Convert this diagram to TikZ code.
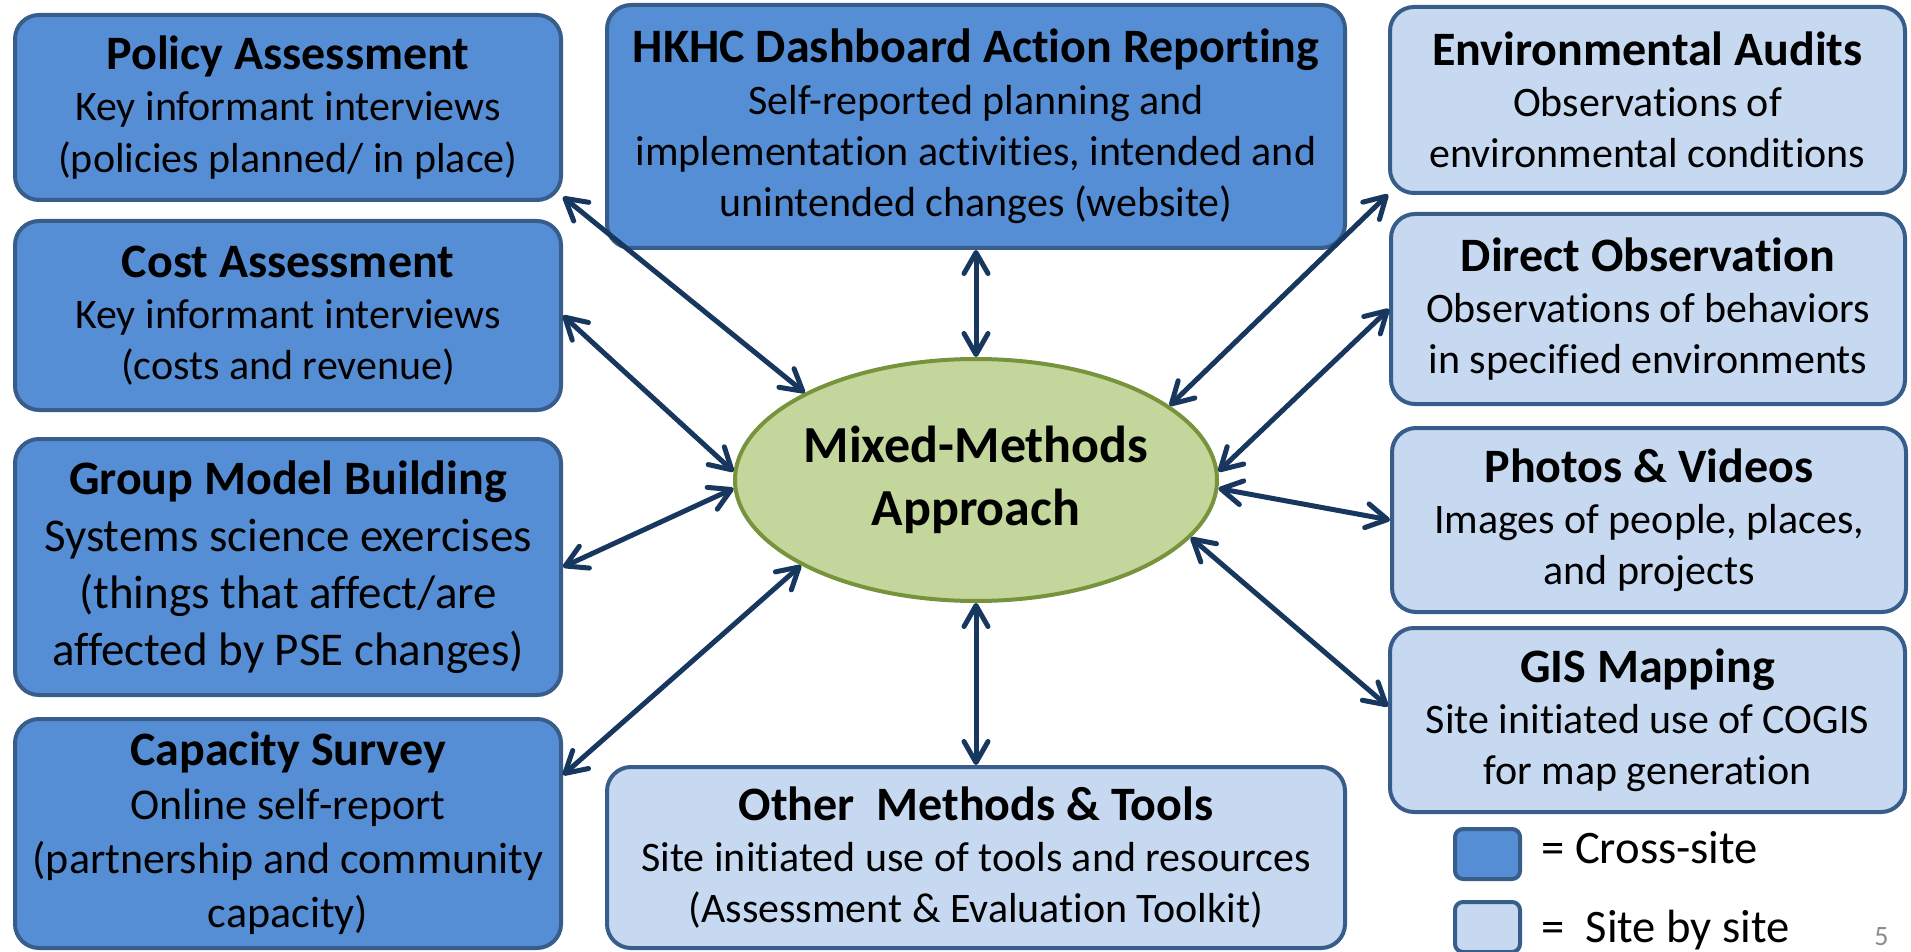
\documentclass[tikz,border=0pt]{standalone}
\usepackage{fontspec}
\setmainfont{Carlito}[Ligatures={NoCommon}]
\usetikzlibrary{arrows.meta,shapes.geometric}
\definecolor{crossc}{RGB}{85,142,213}
\definecolor{sitec}{RGB}{198,217,241}
\definecolor{bordc}{RGB}{56,93,138}
\definecolor{ellfill}{RGB}{195,214,155}
\definecolor{ellbord}{RGB}{119,147,60}
\definecolor{arrc}{RGB}{23,55,94}
\definecolor{pgnum}{RGB}{140,140,140}
\newcommand{\ttl}[1]{{\fontsize{24}{26}\selectfont\bfseries #1}}
\begin{document}
\begin{tikzpicture}[x=0.5pt,y=-0.5pt,
  boxbase/.style={draw=bordc, line width=2pt, rounded corners=12pt, align=center,
    inner sep=0pt, text=black, font={\fontsize{21}{25.6}\selectfont}},
  cross/.style={boxbase, fill=crossc},
  site/.style={boxbase, fill=sitec},
  link/.style={draw=arrc, line width=2.5pt,
    {Straight Barb[length=10.5pt,width=12pt,round]}-{Straight Barb[length=10.5pt,width=12pt,round]}},
  legbox/.style={draw=bordc, line width=2pt, rounded corners=4pt, minimum width=32.5pt, minimum height=25pt, inner sep=0pt},
  legtext/.style={anchor=base west, inner sep=0pt, font={\fontsize{23.3}{28}\selectfont}}
]
\useasboundingbox (0,0) rectangle (1911,952);

% left column
\node[cross, minimum width=273pt, minimum height=92.5pt] (pol) at (288,107.5)
  {\ttl{Policy Assessment}\\Key informant interviews\\(policies planned/ in place)};
\node[cross, minimum width=273pt, minimum height=94.5pt] (cost) at (288,315.5)
  {\ttl{Cost Assessment}\\Key informant interviews\\(costs and revenue)};
\node[cross, minimum width=273pt, minimum height=128pt, font={\fontsize{23.5}{28.5}\selectfont}] (gmb) at (288,567)
  {\ttl{Group Model Building}\\Systems science exercises\\(things that affect/are\\affected by PSE changes)};
\node[cross, minimum width=273pt, minimum height=114.5pt, font={\fontsize{22}{27}\selectfont}] (cap) at (288,833.5)
  {\ttl{Capacity Survey}\\Online self-report\\(partnership and community\\capacity)};

% middle column
\node[cross, minimum width=369pt, minimum height=121.5pt] (dash) at (976,126.5)
  {\ttl{HKHC Dashboard Action Reporting}\\Self-reported planning and\\implementation activities, intended and\\unintended changes (website)};
\node[site, minimum width=369pt, minimum height=90.5pt] (oth) at (976,857.5)
  {\ttl{Other\ \ Methods \& Tools}\\Site initiated use of tools and resources\\(Assessment \& Evaluation Toolkit)};

% right column
\node[site, minimum width=257.5pt, minimum height=93pt] (env) at (1647.5,100)
  {\ttl{Environmental Audits}\\Observations of\\environmental conditions};
\node[site, minimum width=257pt, minimum height=95pt] (dir) at (1648,309)
  {\ttl{Direct Observation}\\Observations of behaviors\\in specified environments};
\node[site, minimum width=257pt, minimum height=92pt] (pho) at (1649,520)
  {\ttl{Photos \& Videos}\\Images of people, places,\\and projects};
\node[site, minimum width=257.5pt, minimum height=92pt] (gis) at (1647.5,720)
  {\ttl{GIS Mapping}\\Site initiated use of COGIS\\for map generation};

% centre ellipse
\node[ellipse, draw=ellbord, fill=ellfill, line width=2pt, minimum width=241pt, minimum height=121pt, inner sep=0pt] (mm) at (976,480) {};
\node[align=center, inner sep=0pt, font={\fontsize{26}{31.5}\selectfont\bfseries}] (mmlabel) at (mm.center) {Mixed-Methods\\Approach};

% connectors
\draw[link] (pol.-18) -- (mm.153);
\draw[link] (cost.east) -- (mm.178);
\draw[link] (gmb.east) -- (mm.182);
\draw[link] (cap.12) -- (mm.206);
\draw[link] (dash.south) -- (mm.north);
\draw[link] (oth.north) -- (mm.south);
\draw[link] (env.200) -- (mm.21);
\draw[link] (dir.west) -- (mm.2);
\draw[link] (pho.west) -- (mm.-2);
\draw[link] (gis.177) -- (mm.-15);

% legend
\node[legbox, fill=crossc] (lg1) at (1487.5,854) {};
\node[legbox, fill=sitec] (lg2) at (1487.5,927) {};
\node[legtext] (lgt1) at (1541,863) {= Cross-site};
\node[legtext] (lgt2) at (1541,942) {=\ \ Site by site};
\node[anchor=base west, inner sep=0pt, text=pgnum, font={\fontsize{14}{16}\selectfont}] (pg) at (1874,945) {5};
\end{tikzpicture}
\end{document}
